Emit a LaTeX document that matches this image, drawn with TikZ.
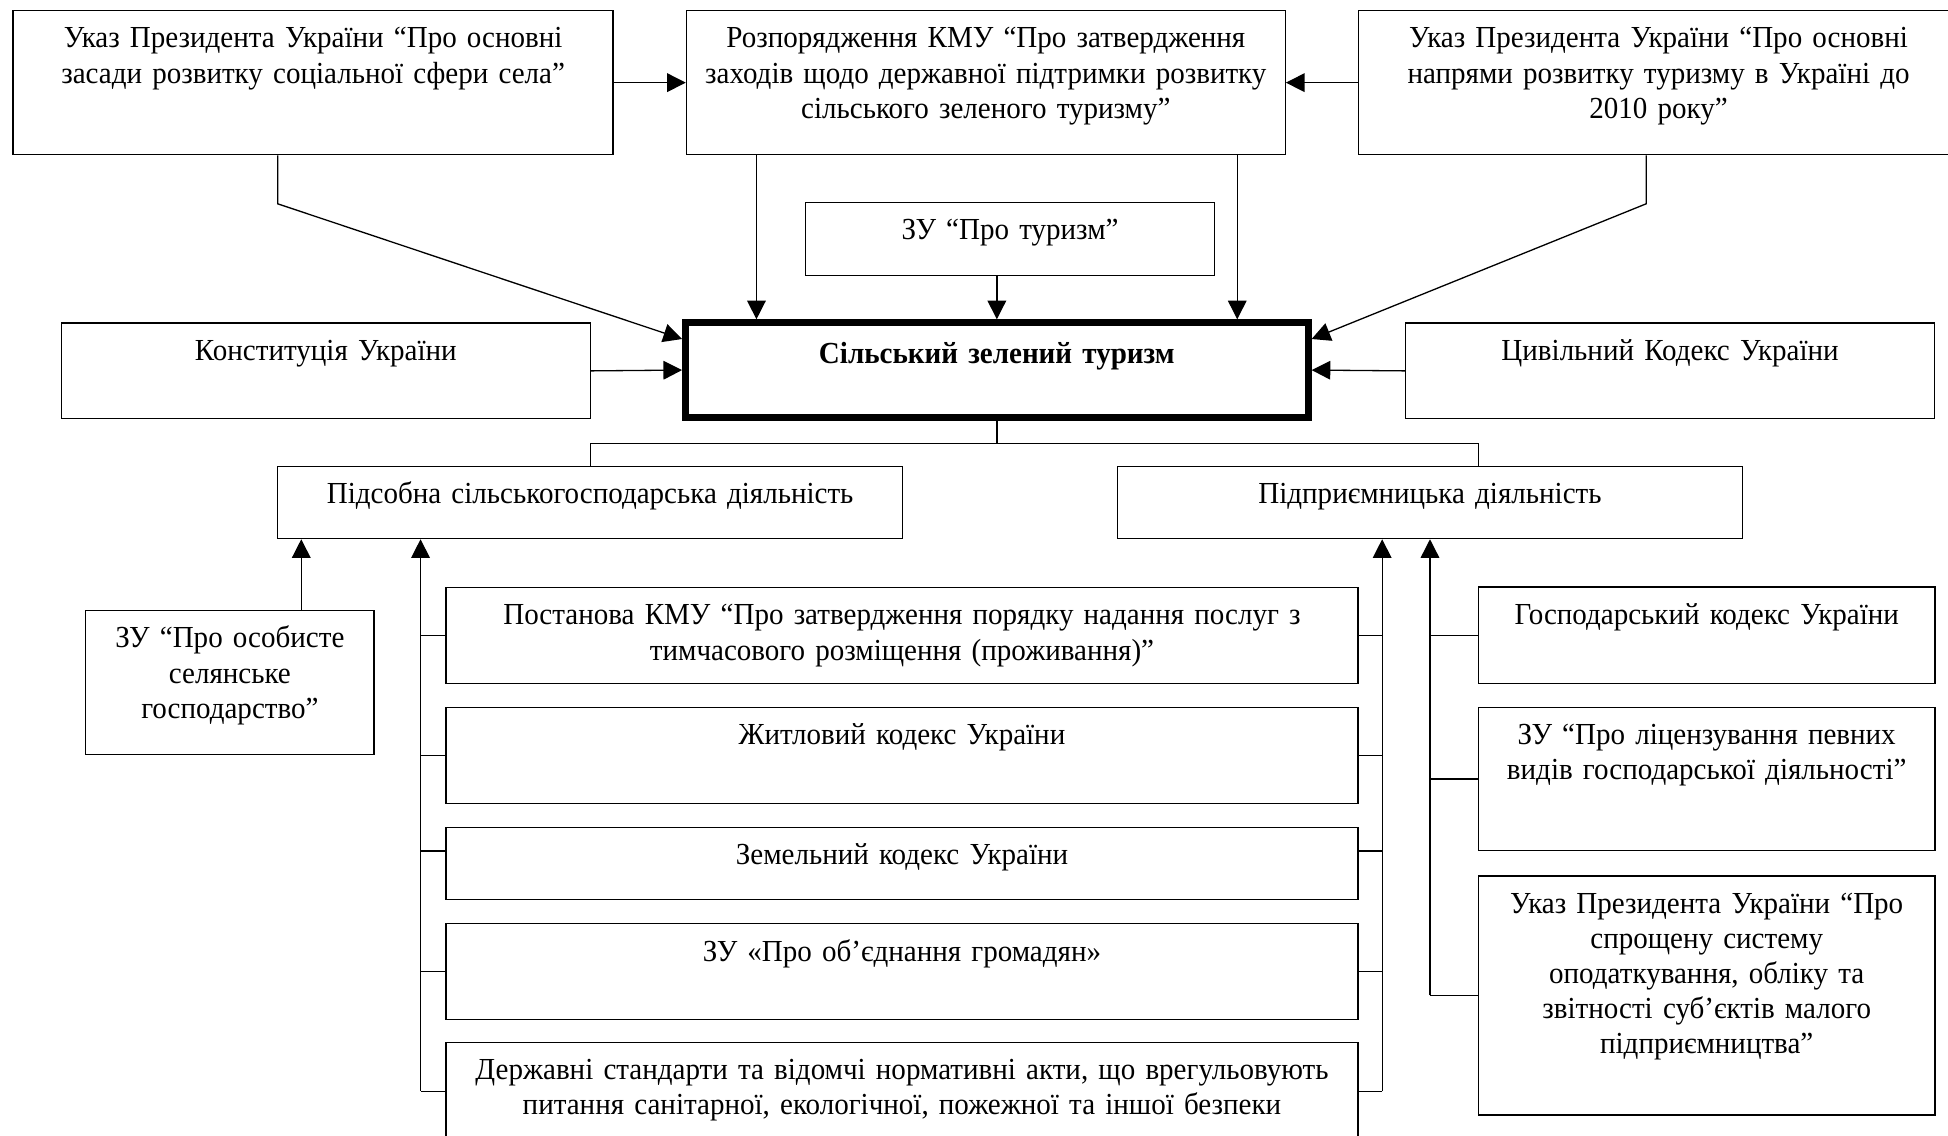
\documentclass[tikz,border=0pt]{standalone}
\usepackage{fontspec}
\setmainfont{Liberation Serif}[FakeStretch=0.95]
\usetikzlibrary{arrows.meta}
\newcommand{\docfont}{\fontsize{14}{16.1}\selectfont}

\begin{document}
\begin{tikzpicture}[
  line width=0.6pt,
  doc/.style={draw, inner sep=0pt, anchor=north west, align=center, text height=0.6cm, font=\docfont},
  arr/.style={-{Triangle[length=0.3cm, width=0.3cm]}}
]
  \useasboundingbox (0,0) rectangle (31.36,-18.28);

  % --- top row: decrees and orders ---
  \node[doc, text width=9.66cm, text depth=1.72cm] (ukazsoc) at (0.2,-0.16)
    {Указ Президента України “Про основні\\ засади розвитку соціальної сфери села”};
  \node[doc, text width=9.64cm, text depth=1.72cm] (rozp) at (11.04,-0.16)
    {Розпорядження КМУ “Про затвердження\\ заходів щодо державної підтримки розвитку\\ сільського зеленого туризму”};
  \node[doc, text width=9.66cm, text depth=1.72cm] (ukaztur) at (21.86,-0.16)
    {Указ Президента України “Про основні\\ напрями розвитку туризму в Україні до\\ 2010 року”};
  \node[doc, text width=6.58cm, text depth=0.57cm] (zutur) at (12.96,-3.25) {ЗУ “Про туризм”};

  % --- central row ---
  \node[doc, line width=3pt, text width=10.03cm, text height=0.66cm, text depth=0.87cm,
    font=\docfont\bfseries] (szt) at (10.98,-5.14) {Сільський зелений туризм};
  \node[doc, text width=8.51cm, text depth=0.94cm] (konst) at (0.98,-5.19) {Конституція України};
  \node[doc, text width=8.51cm, text depth=0.94cm] (civ) at (22.62,-5.19) {Цивільний Кодекс України};

  % --- kinds of activity ---
  \node[doc, text width=10.06cm, text depth=0.56cm] (pidsob) at (4.46,-7.5)
    {Підсобна сільськогосподарська діяльність};
  \node[doc, text width=10.06cm, text depth=0.56cm] (pidpr) at (17.98,-7.5)
    {Підприємницька діяльність};

  % --- left column ---
  \node[doc, text width=4.64cm, text depth=1.72cm] (zuosob) at (1.37,-9.82)
    {ЗУ “Про особисте\\ селянське\\ господарство”};

  % --- middle column ---
  \node[doc, text width=14.68cm, text depth=0.94cm] (postanova) at (7.17,-9.45)
    {Постанова КМУ “Про затвердження порядку надання послуг з\\ тимчасового розміщення (проживання)”};
  \node[doc, text width=14.68cm, text depth=0.95cm] (zhytl) at (7.17,-11.38) {Житловий кодекс України};
  \node[doc, text width=14.68cm, text depth=0.56cm] (zemel) at (7.17,-13.31) {Земельний кодекс України};
  \node[doc, text width=14.68cm, text depth=0.94cm] (zuob) at (7.17,-14.86) {ЗУ «Про об’єднання громадян»};
  \node[doc, text width=14.68cm, text depth=0.98cm] (derzh) at (7.17,-16.77)
    {Державні стандарти та відомчі нормативні акти, що врегульовують\\ питання санітарної, екологічної, пожежної та іншої безпеки};

  % --- right column ---
  \node[doc, text width=7.35cm, text depth=0.95cm] (gosp) at (23.79,-9.44) {Господарський кодекс України};
  \node[doc, text width=7.35cm, text depth=1.7cm] (lic) at (23.79,-11.38)
    {ЗУ “Про ліцензування певних\\ видів господарської діяльності”};
  \node[doc, text width=7.35cm, text depth=3.25cm] (sprosh) at (23.79,-14.09)
    {Указ Президента України “Про\\ спрощену систему\\ оподаткування, обліку та\\ звітності суб’єктів малого\\ підприємництва”};

  % arrows into the order and into the central box
  \draw[arr] (ukazsoc.east) -- (rozp.west);
  \draw[arr] (ukaztur.west) -- (rozp.east);
  \draw[arr] ([xshift=-0.57cm]ukazsoc.south) -- ++(0,-0.78) -- ([yshift=0.5cm]szt.west);
  \draw[arr] ([xshift=-0.2cm]ukaztur.south) -- ++(0,-0.78) -- ([yshift=0.5cm]szt.east);
  \coordinate (s1) at ([xshift=-3.87cm]szt.north);
  \coordinate (s2) at ([xshift=3.87cm]szt.north);
  \draw[arr] (s1 |- rozp.south) -- (s1);
  \draw[arr] (s2 |- rozp.south) -- (s2);
  \draw[arr] (zutur.south -| szt.north) -- (szt.north);
  \draw[arr] (konst.east) -- (szt.west);
  \draw[arr] (civ.west) -- (szt.east);

  % split to the two kinds of activity
  \draw (szt.south) -- ++(0,-0.36) coordinate (split);
  \draw (pidsob.north) |- (split) -| ([xshift=0.78cm]pidpr.north);

  % buses under the activity boxes
  \coordinate (h1) at ([xshift=0.39cm]pidsob.south west);
  \coordinate (h2) at ([xshift=2.31cm]pidsob.south west);
  \coordinate (p1) at ([xshift=-0.77cm]pidpr.south);
  \draw[arr] (h1 |- zuosob.north) -- (h1);
  \draw[arr] (h2 |- derzh.west) -- (h2);
  \draw[arr] (p1 |- derzh.east) -- (p1);
  \draw[arr] (pidpr.south |- sprosh.west) -- (pidpr.south);
  \foreach \b in {postanova, zhytl, zuob, derzh} {
    \draw (\b.west) -- (\b.west -| h2);
    \draw (\b.east) -- (\b.east -| p1);
  }
  \draw ([yshift=0.2cm]zemel.west) -- ++(-0.4,0);
  \draw ([yshift=0.2cm]zemel.east) -- ++(0.39,0);
  \foreach \b in {gosp, lic, sprosh}
    \draw (\b.west) -- (\b.west -| pidpr.south);
\end{tikzpicture}
\end{document}
